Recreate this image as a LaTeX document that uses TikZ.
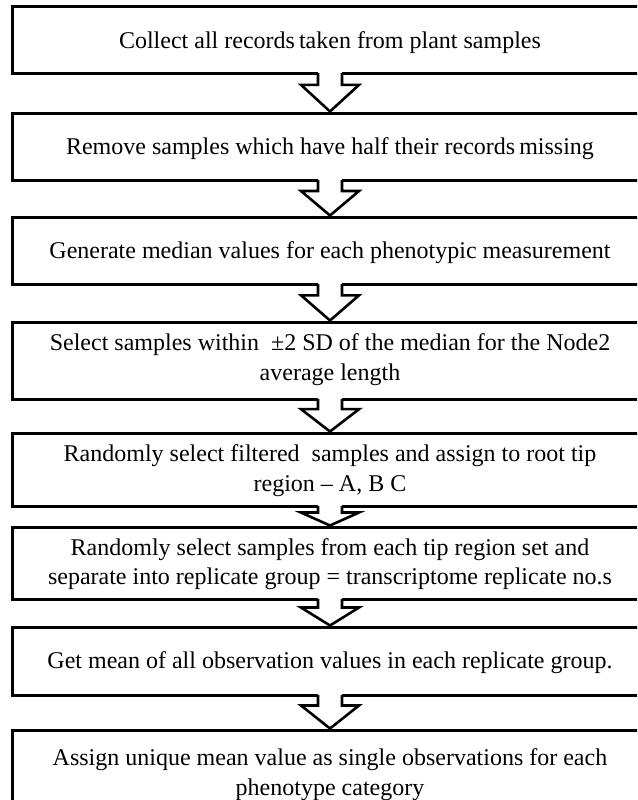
\documentclass[tikz,border=0pt]{standalone}
\usepackage{fontspec}
\setmainfont{Liberation Serif}
\usetikzlibrary{calc}

\tikzset{
  stepbox/.style={draw, line width=3pt, minimum width=636pt, inner sep=0pt},
  steptext/.style={align=center, inner sep=0pt,
    font=\fontsize{24}{29.5}\selectfont},
  flowarrow/.style={draw, line width=2.6pt, line join=miter, fill=white}
}

% hollow block arrow from the bottom of box #1 to the top of box #2
\newcommand\blockarrow[2]{%
  \fill[white] ($(#1.south)+(-12,-2.5)$) rectangle ($(#1.south)+(12,2)$);
  \draw[flowarrow]
    ($(#1.south)+(-12,-1.5)$)
    -- ($(#1.south)!0.28!(#2.north)+(-12,0)$)
    -- ($(#1.south)!0.28!(#2.north)+(-29,0)$)
    -- (#2.north)
    -- ($(#1.south)!0.28!(#2.north)+(29,0)$)
    -- ($(#1.south)!0.28!(#2.north)+(12,0)$)
    -- ($(#1.south)+(12,-1.5)$);
}

\begin{document}
\begin{tikzpicture}[x=1pt, y=-1pt]
  \useasboundingbox (0,0) rectangle (637,800);
  \clip (0,0) rectangle (637,800);

  % boxes
  \node[stepbox, minimum height=66pt] (b1) at (330,40) {};
  \node[stepbox, minimum height=67pt] (b2) at (330,146.5) {};
  \node[stepbox, minimum height=67pt] (b3) at (330,250.5) {};
  \node[stepbox, minimum height=77pt] (b4) at (330,360.5) {};
  \node[stepbox, minimum height=73pt] (b5) at (330,469.5) {};
  \node[stepbox, minimum height=72pt] (b6) at (330,563) {};
  \node[stepbox, minimum height=68pt] (b7) at (330,661) {};
  \node[stepbox, minimum height=92pt] (b8) at (330,776) {};

  % box texts
  \node[steptext] (t1) at ($(b1)+(0,3)$)
    {Collect all records\,taken from plant samples};
  \node[steptext] (t2) at ($(b2)+(0,2)$)
    {Remove samples which have half their records\,missing};
  \node[steptext] (t3) at ($(b3)+(0,2)$)
    {Generate median values for each phenotypic measurement};
  \node[steptext] (t4) at ($(b4)+(0,-1)$)
    {Select samples within \ ±2 SD of the median for the Node2\\average length};
  \node[steptext] (t5) at ($(b5)+(0,1)$)
    {Randomly select filtered\ \ samples and assign to root tip\\region – A, B C};
  \node[steptext] (t6) at ($(b6)+(0,1)$)
    {Randomly select samples from each tip region set and\\separate into replicate group = transcriptome replicate no.s};
  \node[steptext] (t7) at ($(b7)+(0,2)$)
    {Get mean of all observation values in each replicate group.};
  \node[steptext] (t8) at ($(b8)+(0,-1.5)$)
    {Assign unique mean value as single observations for each\\phenotype category};

  % connectors
  \blockarrow{b1}{b2}
  \blockarrow{b2}{b3}
  \blockarrow{b3}{b4}
  \blockarrow{b4}{b5}
  \blockarrow{b5}{b6}
  \blockarrow{b6}{b7}
  \blockarrow{b7}{b8}
\end{tikzpicture}
\end{document}
